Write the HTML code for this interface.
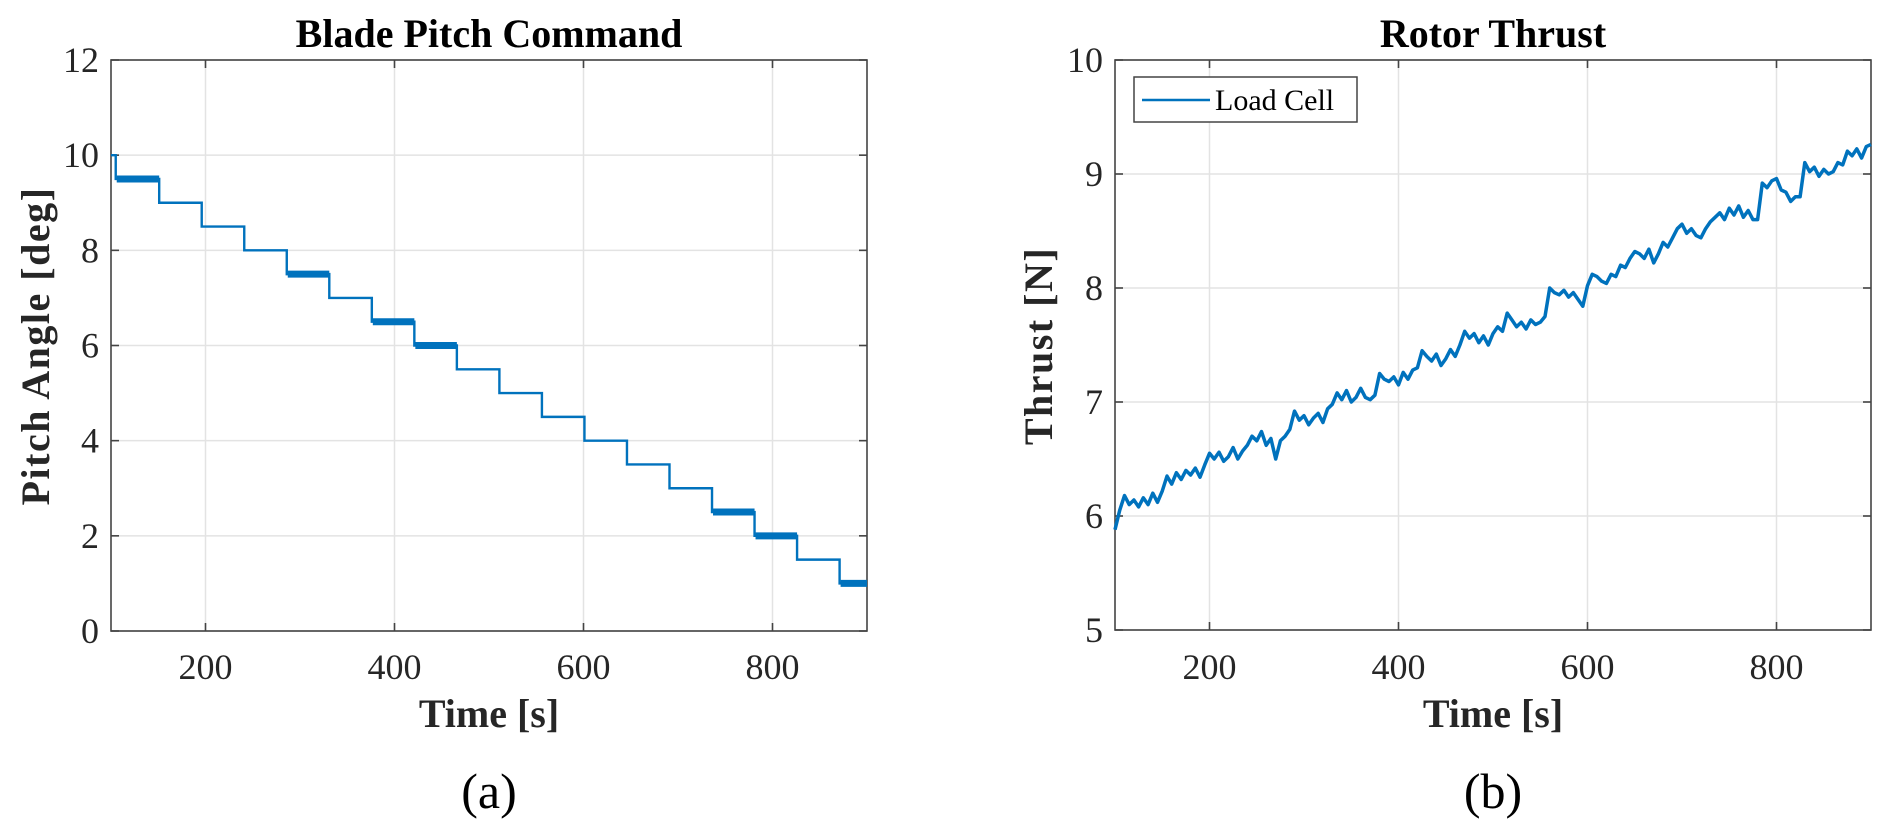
<!DOCTYPE html>
<html><head><meta charset="utf-8">
<style>
html,body{margin:0;padding:0;background:#fff;}
svg{display:block;font-family:"Liberation Serif",serif;}
</style></head>
<body>
<svg id="fig" width="1892" height="838" viewBox="0 0 1892 838">
<g id="pA"></g>
<g id="pB"></g>
</svg>
<script>
// ---- Panel (a) data ----
const pitchStepTimes = [100,105,151,196,241,286,331,376,421,466,511,556,601,646,691,736,781,826,871];
const pitchValues    = [10,9.5,9,8.5,8,7.5,7,6.5,6,5.5,5,4.5,4,3.5,3,2.5,2,1.5,1];
const pitchNoisy     = [0,1,0,0,0,1,0,1,1,0,0,0,0,0,0,1,1,0,1];
const pitchEnd = 900;
const yTicksA = [0,2,4,6,8,10,12];
const xTicks = [200,400,600,800];
// ---- Panel (b) data ----
const thrustT0 = 100, thrustDt = 5;
const thrustValues = [5.88,6.05,6.18,6.1,6.14,6.08,6.16,6.1,6.2,6.12,6.22,
6.35,6.28,6.38,6.32,6.4,6.36,6.42,6.34,6.45,
6.55,6.5,6.56,6.48,6.52,6.6,6.5,6.57,6.62,
6.7,6.66,6.74,6.62,6.68,6.5,6.66,6.7,6.76,
6.92,6.84,6.88,6.8,6.86,6.9,6.82,6.94,6.98,
7.08,7.02,7.1,7.0,7.04,7.12,7.04,7.02,7.06,
7.25,7.2,7.18,7.22,7.15,7.26,7.2,7.28,7.3,
7.45,7.4,7.36,7.42,7.32,7.38,7.46,7.4,7.5,
7.62,7.56,7.6,7.52,7.58,7.5,7.6,7.66,7.62,
7.78,7.72,7.66,7.7,7.64,7.72,7.68,7.7,7.75,
8.0,7.96,7.94,7.98,7.92,7.96,7.9,7.84,8.02,
8.12,8.1,8.06,8.04,8.12,8.1,8.2,8.18,8.26,
8.32,8.3,8.26,8.34,8.22,8.3,8.4,8.36,8.44,
8.52,8.56,8.48,8.52,8.46,8.44,8.52,8.58,8.62,
8.66,8.6,8.7,8.64,8.72,8.62,8.68,8.6,8.6,
8.92,8.88,8.94,8.96,8.86,8.84,8.76,8.8,8.8,
9.1,9.02,9.06,8.98,9.04,9.0,9.02,9.1,9.08,
9.2,9.16,9.22,9.14,9.24,9.26];
const yTicksB = [5,6,7,8,9,10];

const NS="http://www.w3.org/2000/svg";
function mk(parent,tag,attrs,text){const e=document.createElementNS(NS,tag);for(const k in attrs)e.setAttribute(k,attrs[k]);if(text!==undefined)e.textContent=text;parent.appendChild(e);return e;}

function axes(g,L,R,T,B,xmin,xmax,ymin,ymax,yt,title,ylabel,cap,ylx){
  const sx=v=>L+(v-xmin)/(xmax-xmin)*(R-L);
  const sy=v=>B-(v-ymin)/(ymax-ymin)*(B-T);
  xTicks.forEach(v=>{const l=mk(g,'line',{x1:sx(v),x2:sx(v),y1:T,y2:B,stroke:'#e3e3e3','stroke-width':1.5});
    
    });
  yt.forEach(v=>{const l=mk(g,'line',{x1:L,x2:R,y1:sy(v),y2:sy(v),stroke:'#e3e3e3','stroke-width':1.5});
    
    });
  const box=mk(g,'rect',{x:L,y:T,width:R-L,height:B-T,fill:'none',stroke:'#444','stroke-width':1.6});
  
  
  xTicks.forEach(v=>{
    mk(g,'line',{x1:sx(v),x2:sx(v),y1:B,y2:B-8,stroke:'#444','stroke-width':1.6});
    mk(g,'line',{x1:sx(v),x2:sx(v),y1:T,y2:T+8,stroke:'#444','stroke-width':1.6});
    const t=mk(g,'text',{x:sx(v),y:679,'font-size':36,'text-anchor':'middle',fill:'#262626'},v);
    
    
  });
  yt.forEach(v=>{
    mk(g,'line',{x1:L,x2:L+8,y1:sy(v),y2:sy(v),stroke:'#444','stroke-width':1.6});
    mk(g,'line',{x1:R,x2:R-8,y1:sy(v),y2:sy(v),stroke:'#444','stroke-width':1.6});
    const t=mk(g,'text',{x:L-12,y:sy(v)+12,'font-size':36,'text-anchor':'end',fill:'#262626'},v);
    
    
  });
  const cx=(L+R)/2;
  const ti=mk(g,'text',{x:cx,y:47,'font-size':40,'font-weight':'bold','text-anchor':'middle',fill:'#000'},title);
  
  
  const xl=mk(g,'text',{x:cx,y:727,'font-size':40,'font-weight':'bold','text-anchor':'middle',fill:'#262626'},'Time [s]');
  
  
  const yl=mk(g,'text',{x:0,y:0,'font-size':40,'font-weight':'bold','text-anchor':'middle',fill:'#262626',transform:`translate(${ylx},346) rotate(-90)`,'letter-spacing':'1.5'},ylabel);
  
  
  const cp=mk(g,'text',{x:cx,y:808,'font-size':50,'text-anchor':'middle',fill:'#000'},cap);
  
  
  return {sx,sy};
}

// Panel (a)
const gA=document.getElementById('pA');
const A=axes(gA,111,867,60,631,100,900,0,12,yTicksA,'Blade Pitch Command','Pitch Angle [deg]','(a)',49);
let dA='';
pitchStepTimes.forEach((t,i)=>{
  const tEnd = i<pitchStepTimes.length-1?pitchStepTimes[i+1]:pitchEnd;
  dA += (i===0?'M':'L')+A.sx(t)+','+A.sy(pitchValues[i])+' L'+A.sx(tEnd)+','+A.sy(pitchValues[i])+' ';
});
const lA=mk(gA,'path',{d:dA,fill:'none',stroke:'#0072BD','stroke-width':2.4});


pitchStepTimes.forEach((t,i)=>{
  if(!pitchNoisy[i])return;
  const tEnd = i<pitchStepTimes.length-1?pitchStepTimes[i+1]:pitchEnd;
  const b=mk(gA,'line',{x1:A.sx(t)+1,x2:A.sx(tEnd),y1:A.sy(pitchValues[i]),y2:A.sy(pitchValues[i]),stroke:'#0072BD','stroke-width':7});
  
  
});

// Panel (b)
const gB=document.getElementById('pB');
const B=axes(gB,1115,1871,60,630,100,900,5,10,yTicksB,'Rotor Thrust','Thrust [N]','(b)',1052);
let dB='';
thrustValues.forEach((v,i)=>{dB+=(i===0?'M':'L')+B.sx(thrustT0+i*thrustDt).toFixed(1)+','+B.sy(v).toFixed(1)+' ';});
const lB=mk(gB,'path',{d:dB,fill:'none',stroke:'#0072BD','stroke-width':3.5,'stroke-linejoin':'round'});


// legend
const lg=mk(gB,'g',{});


mk(lg,'rect',{x:1134,y:77,width:223,height:45,fill:'#fff',stroke:'#444','stroke-width':1.5});
const ls=mk(lg,'line',{x1:1142,x2:1210,y1:100,y2:100,stroke:'#0072BD','stroke-width':2.5});


const lt=mk(lg,'text',{x:1215,y:110,'font-size':30,fill:'#000'},'Load Cell');


</script>
</body></html>
